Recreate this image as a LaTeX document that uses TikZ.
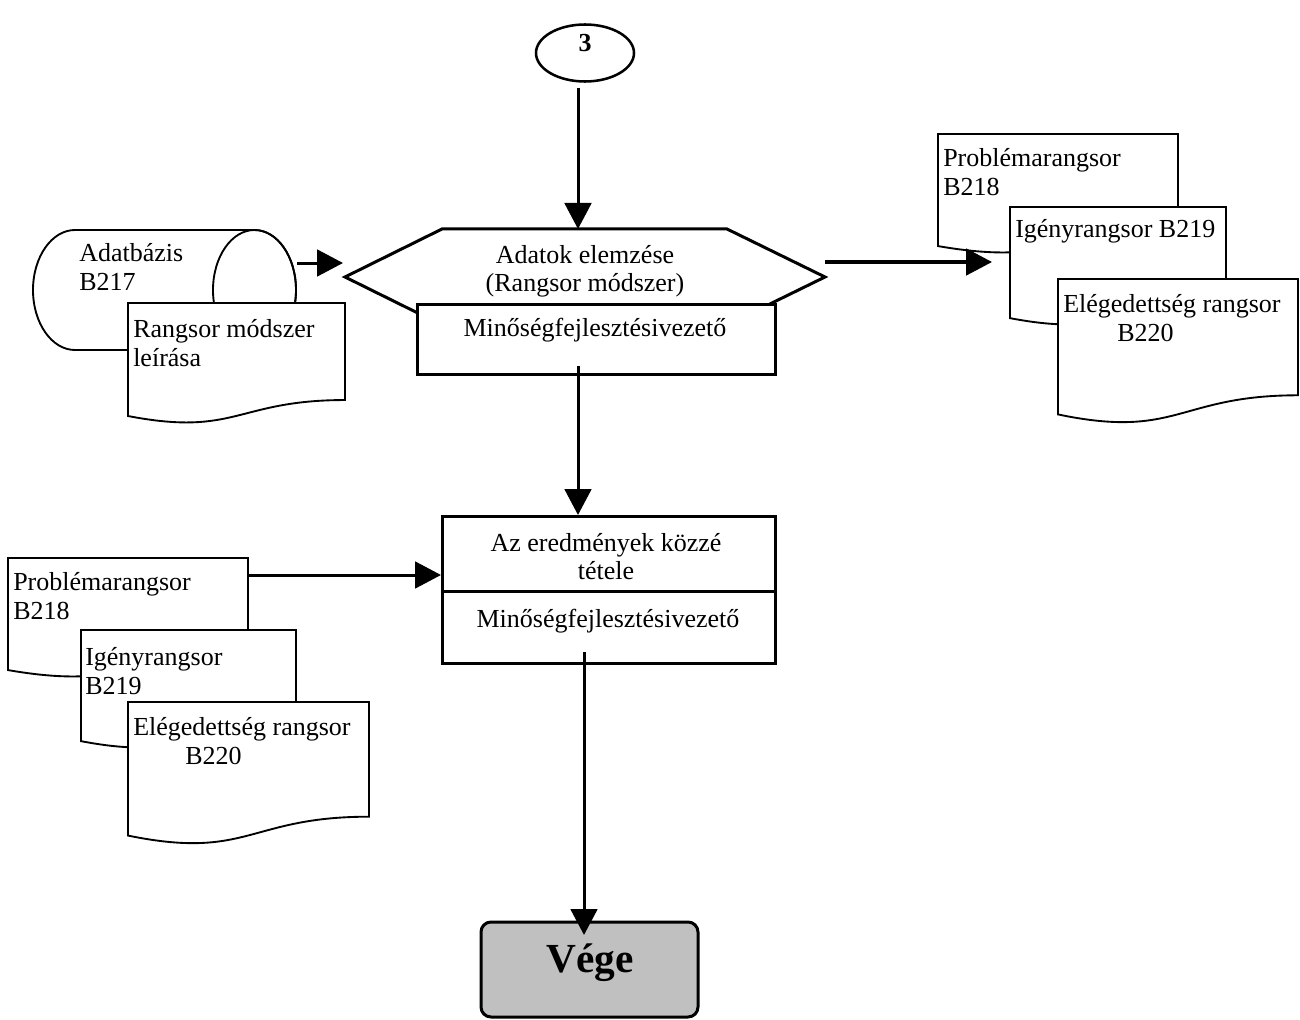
\documentclass[tikz,border=0pt]{standalone}
\usepackage{fontspec}
\setmainfont{Liberation Serif}
\usetikzlibrary{arrows.meta,shapes.geometric}

\definecolor{vegefill}{RGB}{192,192,192}

\tikzset{
  conn/.style={line width=2.25pt, -{Triangle[length=19.5pt,width=20pt]}},
  thinline/.style={line width=1.4pt, draw=black, fill=white},
  thickbox/.style={line width=2.25pt, draw=black, fill=white, inner sep=0pt},
  txt/.style={inner sep=0pt, font=\fontsize{19.5}{21.75}\selectfont},
}

% two left-aligned lines, baseline on the first
\newcommand\twol[2]{\vtop{\hbox{#1}\hbox{#2}}}
% two centred lines, baseline on the first
\newcommand\twoc[2]{\vtop{\halign{\hfil##\hfil\cr #1\cr #2\cr}}}

% document symbol: name, left, top, right, nominal height (all in px)
\newcommand\docpage[5]{%
  \path[thinline] (#2,#3) -- (#4,#3) -- (#4,{#3+0.802*#5})
    .. controls ({(#2+#4)/2},{#3+0.802*#5}) and ({(#2+#4)/2},{#3+1.107*#5}) .. (#2,{#3+0.934*#5}) -- cycle;
  \node[inner sep=0pt, minimum width={(#4-#2)*0.75pt}, minimum height={0.802*#5*0.75pt},
        anchor=north west] (#1) at (#2,#3) {};
}

\begin{document}
\begin{tikzpicture}[x=0.75pt,y=-0.75pt]
\useasboundingbox (0,0) rectangle (1300,1020);

% off-page connector
\node[ellipse, draw, line width=1.9pt, minimum width=73.5pt, minimum height=42.75pt, inner sep=0pt] (c3) at (585,53) {};
\node[txt, font=\fontsize{19.5}{21}\selectfont\bfseries, anchor=base] (c3t) at (585,52) {3};

% database cylinder
\path[thinline] (254.5,230) -- (75,230) arc[start angle=270, end angle=90, x radius=42, y radius=60]
  -- (254.5,350) arc[start angle=90, end angle=-90, x radius=41.5, y radius=60] -- cycle;
\draw[line width=1.4pt] (254.5,290) ellipse[x radius=41.5, y radius=60];
\node[inner sep=0pt, minimum width=197pt, minimum height=90pt] (db) at (164.5,290) {};
\node[txt, anchor=base west] (dbt) at (79,262) {\twol{Adatbázis}{B217}};

\docpage{dbdesc}{128}{303}{345}{121}
\node[txt, anchor=base west] (dbdesct) at (133,337) {\twol{Rangsor módszer}{leírása}};

% analysis step
\coordinate (hexNW) at (442,229);
\coordinate (hexNE) at (727,229);
\coordinate (hexE) at (825,277);
\coordinate (hexSE) at (727,325);
\coordinate (hexSW) at (442,325);
\coordinate (hexW) at (345,277);
\draw[line width=2.25pt, fill=white] (hexW) -- (hexNW) -- (hexNE) -- (hexE) -- (hexSE) -- (hexSW) -- cycle;
\node[txt, font=\fontsize{19.5}{21}\selectfont, anchor=base] (hext) at (585,263) {\twoc{Adatok elemzése}{(Rangsor módszer)}};

\node[thickbox, minimum width=268.5pt, minimum height=52.5pt, anchor=north west] (mgr1) at (416,303) {};
\node[txt, anchor=base] (mgr1t) at (595,336) {Minőségfejlesztésivezető};

% right stack of outputs
\docpage{rsR1}{938}{134}{1178}{120}
\node[txt, anchor=base west] (rsR1t) at (943,167) {\twol{Problémarangsor}{B218}};
\docpage{rsR2}{1010}{207}{1226}{119}
\node[txt, anchor=base west] (rsR2t) at (1015,238) {Igényrangsor B219};
\docpage{rsR3}{1058}{279}{1298}{145}
\node[txt, anchor=base west] (rsR3t) at (1063,312) {\twol{Elégedettség rangsor}{\hspace{40.5pt}B220}};

% publishing step
\node[thickbox, minimum width=249.75pt, minimum height=110.25pt, anchor=north west] (pub) at (441,515) {};
\draw[line width=2.25pt] (441,591) -- (774,591);
\node[txt, font=\fontsize{19.5}{21}\selectfont, anchor=base] (pubt) at (606,551) {\twoc{Az eredmények közzé}{tétele}};
\node[txt, anchor=base] (pubr) at (608,627) {Minőségfejlesztésivezető};

% left stack of inputs
\docpage{rsL1}{8}{558}{248}{120}
\node[txt, anchor=base west] (rsL1t) at (13,590) {\twol{Problémarangsor}{B218}};
\docpage{rsL2}{81}{630}{296}{119}
\node[txt, anchor=base west] (rsL2t) at (85,665) {\twol{Igényrangsor}{B219}};
\docpage{rsL3}{128}{702}{369}{143}
\node[txt, anchor=base west] (rsL3t) at (133,735) {\twol{Elégedettség rangsor}{\hspace{39pt}B220}};

% end terminator
\node[draw, line width=2.25pt, fill=vegefill, rounded corners=7.5pt, minimum width=162.75pt,
      minimum height=71.25pt, inner sep=0pt] (end) at (589.5,969.5) {};
\node[inner sep=0pt, font=\fontsize{31}{31}\selectfont\bfseries, anchor=base] (endt) at (590,972) {Vége};

% connectors
\coordinate (c3out) at (578,88);
\draw[conn] (c3out) -- (c3out |- hexNW);
\coordinate (cylout) at (297,263);
\coordinate (hexin) at (343,263);
\draw[conn] (cylout) -- (hexin);
\coordinate (hexout) at (825,262);
\coordinate (stackin) at (992,262);
\draw[conn] (hexout) -- (stackin);
\coordinate (mgr1out) at (578,366);
\draw[conn] (mgr1out) -- (mgr1out |- pub.north);
\coordinate (rowL) at (0,575);
\draw[conn] (rsL1.east |- rowL) -- (pub.west |- rowL);
\coordinate (pubout) at (584,652);
\coordinate (endin) at (584,935);
\draw[conn] (pubout) -- (endin);
\end{tikzpicture}
\end{document}
